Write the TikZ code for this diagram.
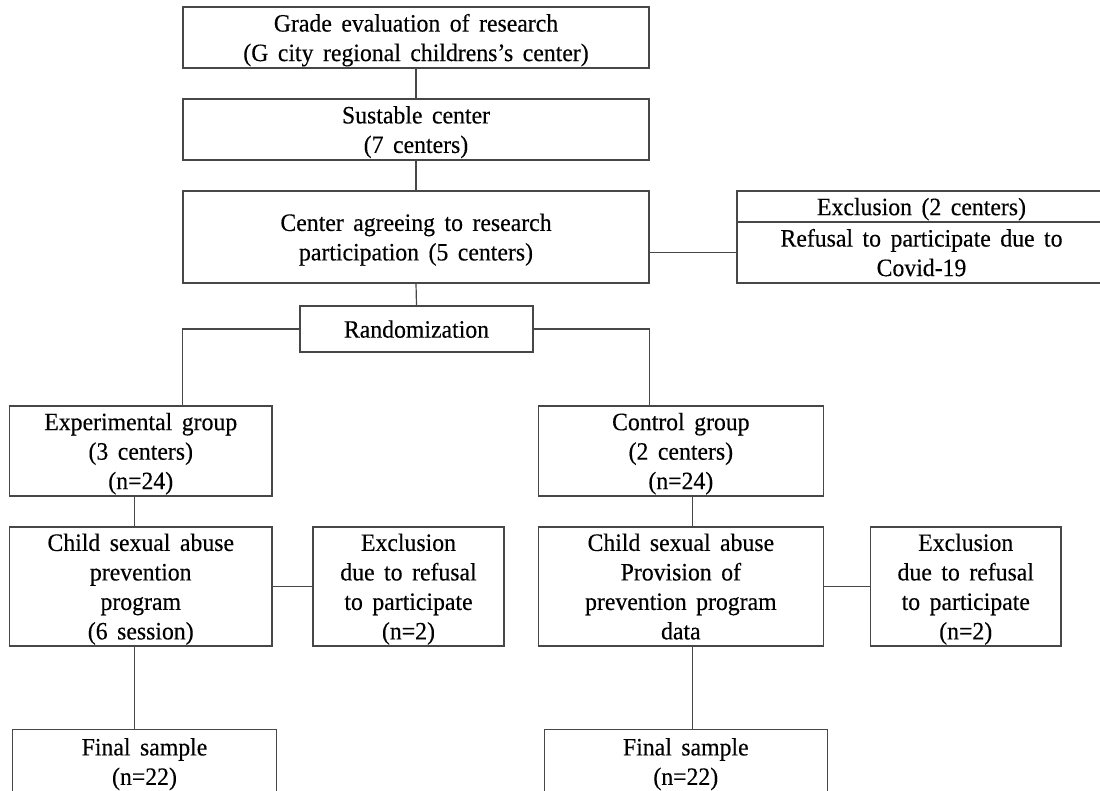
\documentclass[tikz,border=0pt]{standalone}
\usepackage{fontspec}
\setmainfont{Liberation Serif}[WordSpace=1.6,FakeStretch=0.95,FakeBold=0.3]
\begin{document}
\begin{tikzpicture}[x=1pt,y=-1pt,
  box/.style={draw=black!72,line width=1.2pt,rectangle,inner sep=0pt,align=center,
    font=\fontsize{25}{29.5}\selectfont,text=black,text depth=0pt},
  link/.style={draw=black!72,line width=1.2pt}]
\useasboundingbox[fill=white] (0,0) rectangle (1100,791);
% top column
\node[box,minimum width=466pt,minimum height=61pt] (b1) at (416,37.5)
  {Grade evaluation of research\\(G city regional childrens’s center)};
\node[box,minimum width=466pt,minimum height=61pt] (b2) at (416,129.5)
  {Sustable center\\(7 centers)};
\node[box,minimum width=466pt,minimum height=92pt] (b3) at (416,237)
  {Center agreeing to research\\participation (5 centers)};
\node[box,minimum width=369pt,minimum height=31pt] (exA) at (921.5,206.5)
  {Exclusion (2 centers)};
\node[box,minimum width=369pt,minimum height=61pt] (exB) at (921.5,252.5)
  {Refusal to participate due to\\Covid-19};
\node[box,minimum width=233pt,minimum height=46pt] (rand) at (416.5,329)
  {Randomization};
% groups
\node[box,minimum width=262.5pt,minimum height=90pt] (exp) at (140.75,451)
  {Experimental group\\(3 centers)\\(n=24)};
\node[box,minimum width=285pt,minimum height=90pt] (ctl) at (680.85,451)
  {Control group\\(2 centers)\\(n=24)};
\node[box,minimum width=262.5pt,minimum height=119pt] (ch1) at (140.75,586.5)
  {Child sexual abuse\\prevention\\program\\(6 session)};
\node[box,minimum width=191pt,minimum height=119pt] (ex1) at (408.5,586.5)
  {Exclusion\\due to refusal\\to participate\\(n=2)};
\node[box,minimum width=285pt,minimum height=119pt] (ch2) at (680.85,586.5)
  {Child sexual abuse\\Provision of\\prevention program\\data};
\node[box,minimum width=190.5pt,minimum height=119pt] (ex2) at (965.75,586.5)
  {Exclusion\\due to refusal\\to participate\\(n=2)};
\node[box,minimum width=264.4pt,minimum height=64pt] (f1) at (144.5,761.5)
  {Final sample\\(n=22)};
\node[box,minimum width=283pt,minimum height=64pt] (f2) at (685.8,761.5)
  {Final sample\\(n=22)};
% connectors
\draw[link] (b1.south) -- (b2.north);
\draw[link] (b2.south) -- (b3.north);
\draw[link] (b3.south) -- (rand.north);
\draw[link] (b3.east |- exB.west) -- (exB.west);
\draw[link] (rand.west) -| (b3.west |- exp.north);
\draw[link] (rand.east) -| (b3.east |- ctl.north);
\draw[link] ([xshift=-6pt]exp.south) -- ([xshift=-6pt]ch1.north);
\draw[link] (ch1.east) -- (ex1.west);
\draw[link] ([xshift=-6pt]ch1.south) -- ([xshift=-6pt]ch1.south |- f1.north);
\draw[link] ([xshift=12pt]ctl.south) -- ([xshift=12pt]ch2.north);
\draw[link] (ch2.east) -- (ex2.west);
\draw[link] ([xshift=12pt]ch2.south) -- ([xshift=12pt]ch2.south |- f2.north);
\end{tikzpicture}
\end{document}
